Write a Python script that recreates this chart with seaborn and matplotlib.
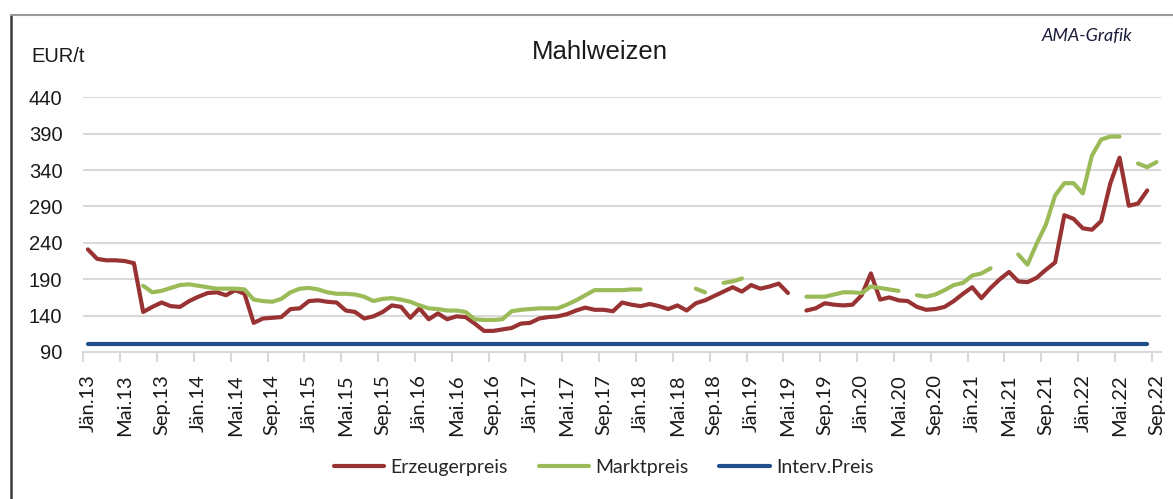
import numpy as np
import pandas as pd
import matplotlib.pyplot as plt
import seaborn as sns
from matplotlib.lines import Line2D

nan = np.nan

# ── data (monthly, Jän.13 … Sep.22) ───────────────────────────────────────────
erzeugerpreis = [
    231, 218, 216, 216, 215, 212, 145, 152, 158, 153,
    152, 160, 166, 171, 172, 168, 175, 170, 130, 136,
    137, 138, 149, 150, 160, 161, 159, 158, 147, 145,
    136, 139, 145, 154, 152, 137, 150, 135, 143, 135,
    139, 138, 129, 119, 119, 121, 123, 129, 130, 136,
    138, 139, 142, 147, 151, 148, 148, 146, 158, 155,
    153, 156, 153, 149, 154, 147, 157, 161, 167, 173,
    179, 173, 182, 177, 180, 184, 171, nan, 147, 150,
    157, 155, 154, 155, 168, 198, 162, 165, 161, 160,
    152, 148, 149, 152, 160, 170, 179, 164, 178, 190,
    200, 187, 186, 192, 203, 213, 278, 273, 260, 258,
    270, 322, 357, 291, 294, 312, nan,
]
marktpreis = [
    nan, nan, nan, nan, nan, nan, 181, 172, 174, 178,
    182, 183, 181, 179, 177, 177, 177, 176, 162, 160,
    159, 163, 172, 177, 178, 176, 172, 170, 170, 169,
    166, 160, 163, 164, 162, 159, 154, 150, 149, 147,
    147, 145, 135, 134, 134, 135, 146, 148, 149, 150,
    150, 150, 155, 161, 168, 175, 175, 175, 175, 176,
    176, nan, nan, nan, nan, nan, 177, 172, nan, 185,
    187, 191, nan, nan, nan, nan, nan, nan, 166, 166,
    166, 169, 172, 172, 171, 180, 178, 176, 174, nan,
    168, 166, 169, 175, 182, 185, 195, 198, 205, nan,
    nan, 224, 210, 239, 265, 305, 322, 322, 308, 360,
    382, 386, 386, nan, 349, 344, 351,
]
interv_preis = [101.31] * 116 + [nan]

tick_labels = [
    "Jän.13", "Mai.13", "Sep.13", "Jän.14", "Mai.14", "Sep.14",
    "Jän.15", "Mai.15", "Sep.15", "Jän.16", "Mai.16", "Sep.16",
    "Jän.17", "Mai.17", "Sep.17", "Jän.18", "Mai.18", "Sep.18",
    "Jän.19", "Mai.19", "Sep.19", "Jän.20", "Mai.20", "Sep.20",
    "Jän.21", "Mai.21", "Sep.21", "Jän.22", "Mai.22", "Sep.22",
]
y_ticks = [90, 140, 190, 240, 290, 340, 390, 440]

series = [
    ("Erzeugerpreis", erzeugerpreis, "#993333"),
    ("Marktpreis", marktpreis, "#9BBB59"),
    ("Interv.Preis", interv_preis, "#1F4E8C"),
]

sns.set_theme(style="white")
plt.rcParams["font.family"] = ["Liberation Sans", "DejaVu Sans"]

fig = plt.figure(figsize=(11.73, 4.99), dpi=100)
ax = fig.add_axes([0.071, 0.2946, 0.9188, 0.5104])

for name, values, color in [series[2], series[0], series[1]]:
    df = pd.DataFrame({"month": np.arange(len(values)), "price": values})
    # split on gaps so that each run is drawn as its own line
    df["seg"] = df["price"].isna().cumsum()
    df = df.dropna()
    sns.lineplot(data=df, x="month", y="price", units="seg", estimator=None,
                 color=color, linewidth=3.0, solid_capstyle="round", ax=ax)

# ── axes cosmetics ────────────────────────────────────────────────────────────
ax.set_xlim(-0.5, 116.5)
ax.set_ylim(90, 440)
ax.set_yticks(y_ticks)
ax.set_yticklabels([str(v) for v in y_ticks], fontsize=14.5, color="#1a1a1a")
ax.yaxis.grid(True, color="#d9d9d9", linewidth=1.5)
ax.set_xlabel("")
ax.set_ylabel("")
ax.tick_params(axis="y", length=0, pad=15)

label_pos = np.arange(0, 117, 4)
ax.set_xticks(label_pos)
ax.set_xticklabels(tick_labels, rotation=90, fontsize=14.5,
                   family=["Lato", "DejaVu Sans"], color="#1a1a1a")
ax.set_xticks(label_pos - 0.5, minor=True)
ax.tick_params(axis="x", which="major", length=0, pad=16)
ax.tick_params(axis="x", which="minor", length=7, width=1.5, color="#d9d9d9",
               direction="out", bottom=True)
for side in ["top", "right", "left"]:
    ax.spines[side].set_visible(False)
ax.spines["bottom"].set_color("#d9d9d9")
ax.spines["bottom"].set_linewidth(1.5)

# ── texts ─────────────────────────────────────────────────────────────────────
fig.text(0.5115, 0.896, "Mahlweizen", ha="center", va="center", fontsize=18.5,
         color="#1a1a1a")
fig.text(0.027, 0.886, "EUR/t", ha="left", va="center", fontsize=14.5,
         color="#1a1a1a")
fig.text(0.888, 0.928, "AMA-Grafik", ha="left", va="center", fontsize=13,
         style="italic", family=["Lato", "DejaVu Sans"], color="#1a1a3a")

handles = [Line2D([0], [0], color=c, linewidth=3.0, solid_capstyle="round")
           for _, _, c in series]
fig.legend(handles, [n for n, _, _ in series], loc="center",
           bbox_to_anchor=(0.5145, 0.064), ncol=3, frameon=False,
           prop={"family": ["Lato", "DejaVu Sans"], "size": 14},
           handlelength=2.6, handletextpad=0.3, columnspacing=1.6)

# frame lines of the original graphic
fig.add_artist(Line2D([0.0094, 0.0094], [0.0, 0.969], color="#3a3a3a",
                      linewidth=1.8, transform=fig.transFigure))
fig.add_artist(Line2D([0.0094, 1.0], [0.969, 0.969], color="#9a9a9a",
                      linewidth=1.5, transform=fig.transFigure))

fig.savefig("out.png", dpi=100)
